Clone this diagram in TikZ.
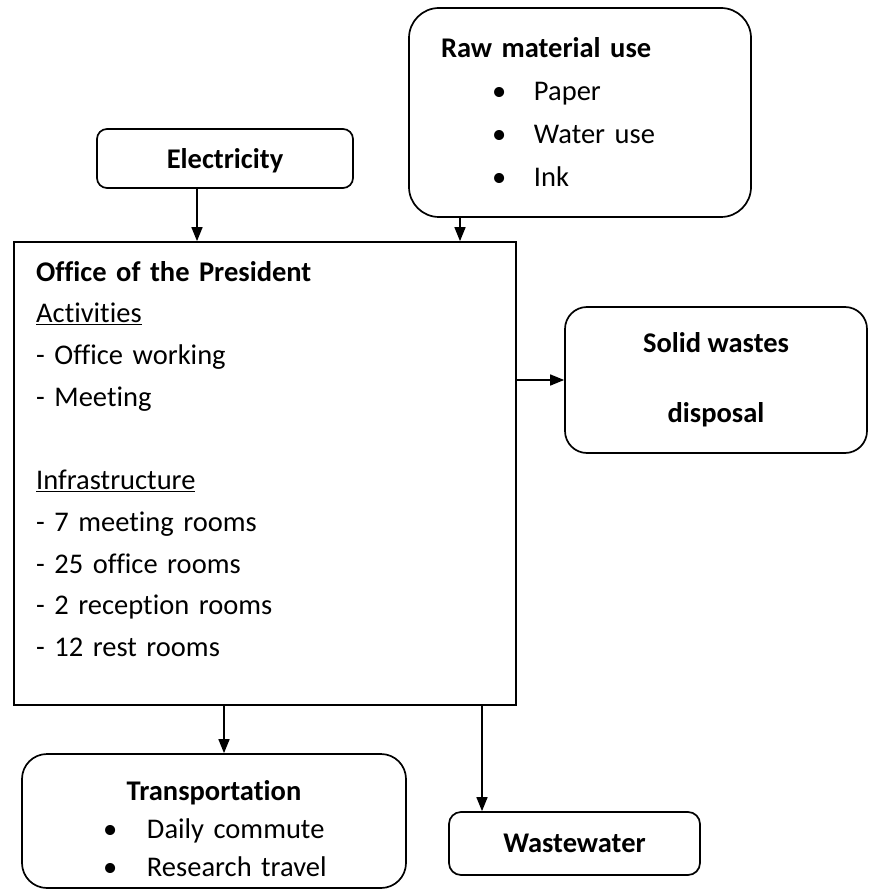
\documentclass[tikz,border=0pt]{standalone}
\usepackage{fontspec}
\setmainfont{Carlito}[Ligatures=NoCommon]
\usetikzlibrary{arrows.meta}

\begin{document}
\begin{tikzpicture}[x=1pt,y=-1pt,
  box/.style={draw, line width=1.7pt, inner sep=0pt, font=\bfseries\fontsize{28.5}{32}\selectfont},
  flow/.style={-{Triangle[length=14pt,width=11pt]}, line width=1.5pt}]
\useasboundingbox (0,0) rectangle (869,890);
%inputs
\node[box, rounded corners=10pt, minimum width=256pt, minimum height=59pt, text depth=0pt] (elec) at (225,158.5) {Electricity};
\node[box, rounded corners=30pt, minimum width=342pt, minimum height=209pt, text width=278pt, align=left,
  font=\fontsize{28.5}{43}\selectfont] (raw) at (580,112.5)
  {\textbf{Raw material use}\\
   \hspace*{51pt}\makebox[42pt][l]{\textbullet}Paper\\
   \hspace*{51pt}\makebox[42pt][l]{\textbullet}Water use\\
   \hspace*{51pt}\makebox[42pt][l]{\textbullet}Ink};
%office
\node[draw, line width=1.7pt, minimum width=502pt, minimum height=463pt, inner sep=0pt] (office) at (265,473.5) {};
\node[anchor=north west, inner sep=0pt, text width=460pt, align=left, font=\fontsize{28.5}{41.7}\selectfont] (offtxt) at (36,261)
  {\textbf{Office of the President}\\
   \underline{Activities}\\
   - Office working\\
   - Meeting\\[41.7pt]
   \underline{Infrastructure}\\
   - 7 meeting rooms\\
   - 25 office rooms\\
   - 2 reception rooms\\
   - 12 rest rooms};
%outputs
\node[box, rounded corners=22pt, minimum width=302pt, minimum height=146pt, align=center,
  font=\bfseries\fontsize{28.5}{70}\selectfont] (solid) at (716,380) {Solid wastes\\disposal};
\node[box, rounded corners=25pt, minimum width=384pt, minimum height=134pt, text width=250pt, align=left,
  font=\fontsize{28.5}{38}\selectfont] (trans) at (214,821)
  {\makebox[250pt][c]{\rule{0pt}{36pt}\textbf{Transportation}}\\
   \hspace*{14pt}\makebox[44pt][l]{\textbullet}Daily commute\\
   \hspace*{14pt}\makebox[44pt][l]{\textbullet}Research travel};
\node[box, rounded corners=12pt, minimum width=251pt, minimum height=63pt, text depth=0pt] (ww) at (574.5,843.5) {Wastewater};
%arrows
\draw[flow] ([xshift=-28pt]elec.south) -- ([xshift=-28pt]elec.south |- office.north);
\draw[flow] ([xshift=-120pt]raw.south) -- ([xshift=-120pt]raw.south |- office.north);
\draw[flow] (office.east |- solid.west) -- (solid.west);
\draw[flow] ([xshift=10pt]trans.north |- office.south) -- ([xshift=10pt]trans.north);
\draw[flow] ([xshift=-92.5pt]ww.north |- office.south) -- ([xshift=-92.5pt]ww.north);
\end{tikzpicture}
\end{document}
